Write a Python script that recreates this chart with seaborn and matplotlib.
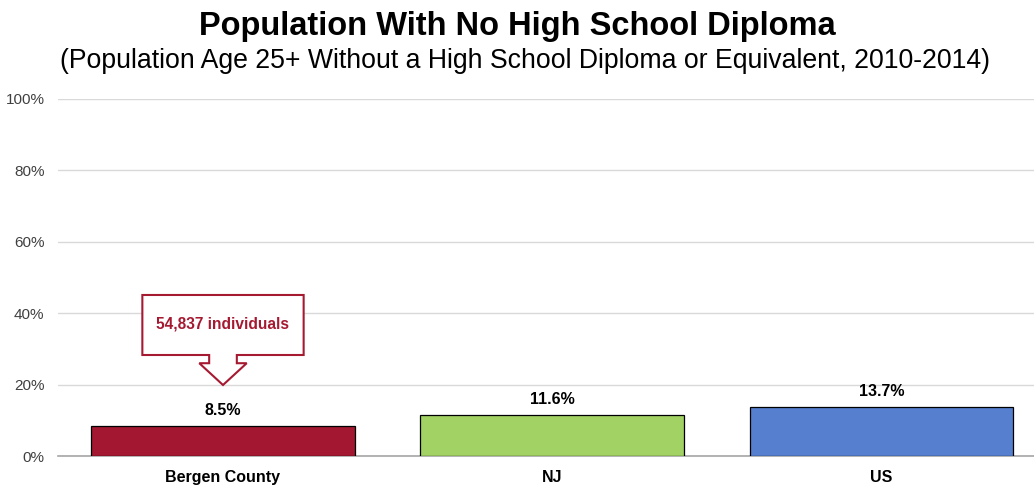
import matplotlib
matplotlib.use("Agg")
import matplotlib.pyplot as plt
import seaborn as sns
import pandas as pd
from matplotlib.patches import Polygon
from matplotlib.ticker import PercentFormatter

regions = ["Bergen County", "NJ", "US"]
pct_no_diploma = [8.5, 11.6, 13.7]
bar_colors = ["#A31830", "#A2D164", "#5680CF"]
y_ticks = [0, 20, 40, 60, 80, 100]
callout_text = "54,837 individuals"

sns.set_theme(style="white")
plt.rcParams['font.family'] = ['Liberation Sans', 'DejaVu Sans']
plt.rcParams['text.color'] = 'black'

df = pd.DataFrame({"Region": regions, "Pct": pct_no_diploma})

fig = plt.figure(figsize=(10.34, 4.92), dpi=100)
ax = fig.add_axes([0.0565, 0.073, 0.955, 0.726])

sns.barplot(data=df, x="Region", y="Pct", hue="Region", palette=bar_colors,
            saturation=1, width=0.80, edgecolor="black", linewidth=0.9,
            legend=False, ax=ax, zorder=3)

ax.set_ylim(0, 100)
ax.set_xlim(-0.5, 2.5)
ax.set_yticks(y_ticks)
ax.yaxis.set_major_formatter(PercentFormatter(decimals=0))
ax.grid(axis='y', color="#D9D9D9", linewidth=1, zorder=0)
ax.set_xlabel("")
ax.set_ylabel("")
for s in ["top", "right", "left"]:
    ax.spines[s].set_visible(False)
ax.spines["bottom"].set_color("#A6A6A6")
ax.spines["bottom"].set_linewidth(1.2)
ax.tick_params(axis='y', labelsize=11, colors="#404040", pad=10, length=0)
ax.tick_params(axis='x', labelsize=11.5, pad=10, length=0)
for lbl in ax.get_xticklabels():
    lbl.set_fontweight("bold")
    lbl.set_color("black")

for i, v in enumerate(pct_no_diploma):
    ax.text(i, v + 2.2, f"{v}%", ha="center", va="bottom", fontsize=11.5,
            fontweight="bold", color="black")

# callout box with downward arrow over the first bar
cx = 0
bw, sw, hw = 0.245, 0.042, 0.072
top, base, head, tip = 45.1, 28.3, 26.0, 19.9
pts = [(cx - bw, top), (cx + bw, top), (cx + bw, base), (cx + sw, base),
       (cx + sw, head), (cx + hw, head), (cx, tip), (cx - hw, head),
       (cx - sw, head), (cx - sw, base), (cx - bw, base)]
ax.add_patch(Polygon(pts, closed=True, facecolor="white", edgecolor="#A51931",
                     linewidth=1.5, zorder=5))
ax.text(cx, (top + base) / 2 + 0.3, callout_text, ha="center", va="center",
        fontsize=11.2, fontweight="bold", color="#A51931", zorder=6)

fig.text(0.5, 0.978, "Population With No High School Diploma", ha="center", va="top",
         fontsize=23.5, fontweight="bold", color="black")
fig.text(0.508, 0.903, "(Population Age 25+ Without a High School Diploma or Equivalent, 2010-2014)",
         ha="center", va="top", fontsize=19.2, color="black")

fig.savefig("out.png", dpi=100)
